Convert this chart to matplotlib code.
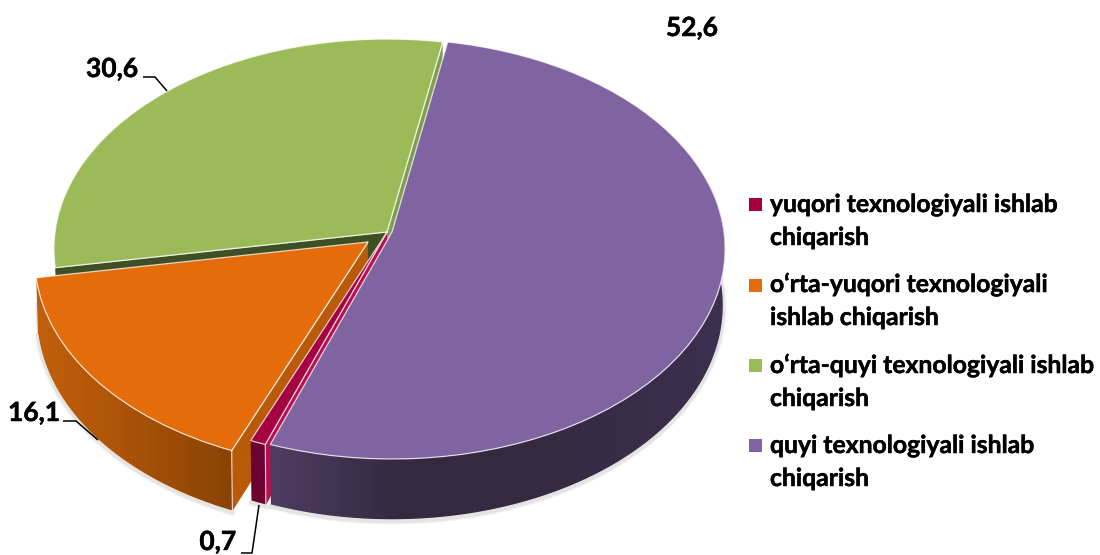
import numpy as np
import matplotlib
matplotlib.use("Agg")
import matplotlib.pyplot as plt
import matplotlib.patheffects as pe
from matplotlib.patches import Rectangle
from matplotlib.path import Path
from matplotlib.transforms import Transform

# ---- data ----
values = [0.7, 16.1, 30.6, 52.6]
value_labels = ["0,7", "16,1", "30,6", "52,6"]
legend_lines = [
    ["yuqori texnologiyali ishlab", "chiqarish"],
    ["o\u2018rta-yuqori texnologiyali", "ishlab chiqarish"],
    ["o\u2018rta-quyi texnologiyali ishlab", "chiqarish"],
    ["quyi texnologiyali ishlab", "chiqarish"],
]

# ---- style / layout ----
top_colors = ["#A5003F", "#E46C0A", "#9BBB59", "#8064A2"]
radial_colors = ["#B8104F", "#B85A08", "#3F4F24", "#5A4672"]
green_right_color = "#829E4C"
wall_stops = [
    ([245, 275], ["#6C0230", "#6C0230"]),
    ([35, 100, 230], ["#C0600C", "#B25708", "#8A4305"]),
    ([50, 400], ["#6E8A3C", "#6E8A3C"]),
    ([270, 400, 560, 725], ["#4E3D63", "#34293F", "#352A42", "#3D3050"]),
]
apexes = [(387, 232), (368, 242), (387, 232), (392, 232)]
A, B, P, DEPTH = 332.0, 208.6, 0.081, 56.0
START_CLOCKWISE = 199.8   # degrees clockwise from the top where the first slice begins
FONT = "Lato"
BOLDER = [pe.withStroke(linewidth=0.35, foreground="black")]


def project(u, v, apex, drop=0.0):
    u, v = np.asarray(u, float), np.asarray(v, float)
    w = 1 + P * v
    k = 0.995 if drop else 1.0
    return apex[0] + k * A * u / w, apex[1] + (-B * v + drop) / w


class Tilt(Transform):
    input_dims = output_dims = 2
    is_separable = False
    has_inverse = False

    def __init__(self, apex):
        super().__init__()
        self.apex = apex

    def transform_non_affine(self, xy):
        xy = np.asarray(xy, float)
        x, y = project(xy[:, 0], xy[:, 1], self.apex)
        return np.column_stack([x, y])


fig = plt.figure(figsize=(11, 5.55), dpi=100)
ax = fig.add_axes([0, 0, 1, 1])

wedges, _ = ax.pie(values, colors=top_colors, startangle=90 - START_CLOCKWISE,
                   counterclock=False,
                   wedgeprops=dict(edgecolor=(1, 1, 1, 0.75), linewidth=0.9))
ax.set_aspect("auto")
ax.set_xlim(0, 1100)
ax.set_ylim(555, 0)
ax.axis("off")

fracs = np.array(values) / sum(values)
ends = START_CLOCKWISE + 360 * np.cumsum(fracs)
starts = ends - 360 * fracs
top_z = [6, 4, 2, 8]

for i, wedge in enumerate(wedges):
    wedge.set_transform(Tilt(apexes[i]) + ax.transData)
    wedge.set_zorder(top_z[i])
    wedge.set_clip_on(False)
    apex = apexes[i]
    wall_z = top_z[i] - 0.5

    # radial faces
    faces = []
    if i == 2:
        faces = [(starts[i], radial_colors[i]), (ends[i], green_right_color)]
    elif i == 1:
        faces = [(starts[i], radial_colors[i])]
    elif i == 0:
        faces = [(starts[i], radial_colors[i])]
    for ang, col in faces:
        t = np.radians(ang)
        u0, v0 = np.sin(t), np.cos(t)
        x1, y1 = project(u0, v0, apex)
        x2, y2 = project(u0, v0, apex, DEPTH)
        x3, y3 = project(0, 0, apex, DEPTH)
        x4, y4 = project(0, 0, apex)
        ax.fill([x1, x2, x3, x4], [y1, y2, y3, y4], color=col, lw=0,
                zorder=wall_z - 0.2)
        ax.plot([x1, x4], [y1, y4], color="white", lw=0.8, alpha=0.7, zorder=wall_z)
        if i != 2:
            ax.plot([x1, x2], [y1, y2], color="#F2E6E0", lw=0.8, alpha=0.9, zorder=wall_z + 0.3)

    # outer wall with a horizontal gradient
    th = np.radians(np.linspace(starts[i], ends[i], 260))
    u, v = np.sin(th), np.cos(th)
    keep = v < 0.25
    if i == 2:
        keep = np.zeros_like(v, bool)
    if keep.sum() > 1:
        u, v = u[keep], v[keep]
        xt, yt = project(u, v, apex)
        xb, yb = project(u, v, apex, DEPTH)
        stops_x, stops_c = wall_stops[i]
        rgb = np.array([matplotlib.colors.to_rgb(c) for c in stops_c])
        x0, x1 = min(xt.min(), xb.min()) - 2, max(xt.max(), xb.max()) + 2
        y0, y1 = yt.min() - 2, yb.max() + 2
        grid = np.linspace(x0, x1, 256)
        grad = np.stack([np.interp(grid, stops_x, rgb[:, c]) for c in range(3)], axis=-1)[None, :, :]
        im = ax.imshow(grad, extent=(x0, x1, y1, y0), aspect="auto",
                       interpolation="bilinear", zorder=wall_z)
        outline = np.vstack([np.column_stack([xt, yt]),
                             np.column_stack([xb[::-1], yb[::-1]]),
                             [[xt[0], yt[0]]]])
        im.set_clip_path(Path(outline), ax.transData)
        # pale rim and soft shadow along the bottom edge
        ax.plot(xb, yb, color="#E8E4E0", lw=0.9, zorder=wall_z + 0.1)
        for lw, al in [(4.5, 0.06), (2.8, 0.10)]:
            ax.plot(xb, yb + 1.5, color="#555555", lw=lw, alpha=al, zorder=0.5)

# left vertical end of orange wall shadow
x_l, y_l = project(np.sin(np.radians(ends[1])), np.cos(np.radians(ends[1])), apexes[1], DEPTH)
ax.plot([x_l - 1, x_l + 1], [y_l - 30, y_l], color="#555555", lw=3, alpha=0.12, zorder=0.5)

# leader lines
leaders = [
    ([241, 252, 259], [553, 553, 505]),
    ([63, 76, 98], [421, 421, 440]),
    ([143, 155, 167], [77, 77, 91]),
]
for xs, ys in leaders:
    ax.plot(xs, ys, color="black", lw=1.1, zorder=12, solid_capstyle="butt")

# value labels
label_pos = [(236, 550, "right"), (60, 421, "right"), (138, 77, "right"), (718, 36, "right")]
for txt, (x, y, ha) in zip(value_labels, label_pos):
    ax.text(x, y, txt, ha=ha, va="baseline", fontsize=19, fontweight="bold",
            family=FONT, color="black", clip_on=False, zorder=13, path_effects=BOLDER)

# legend
square_tops = [198, 279, 359, 439]
baselines = [(212, 245), (292, 325), (373, 406), (453, 486)]
for lines, col, sy, bl in zip(legend_lines, top_colors, square_tops, baselines):
    ax.add_patch(Rectangle((749, sy), 13, 13, facecolor=col, edgecolor="none", zorder=13))
    for line, y in zip(lines, bl):
        ax.text(770, y, line, ha="left", va="baseline", fontsize=17.8, fontweight="bold",
                family=FONT, color="black", zorder=13, path_effects=BOLDER)

ax.set_xlim(0, 1100)
ax.set_ylim(555, 0)
fig.savefig("out.png", dpi=100)
